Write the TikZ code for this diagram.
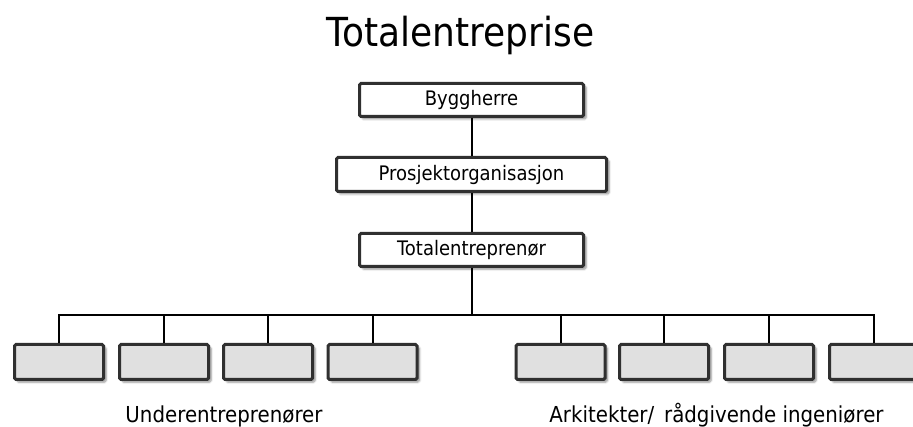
\documentclass[tikz,border=0pt]{standalone}
\usepackage{fontspec}
\newfontfamily\tfont[FakeStretch=0.9]{DejaVu Sans}
\usetikzlibrary{shadows.blur}
\definecolor{boxline}{HTML}{303030}
\definecolor{boxgray}{HTML}{E0E0E0}
\begin{document}
\begin{tikzpicture}[x=1pt,y=-1pt,
  orgbox/.style={draw=boxline, line width=3pt, rounded corners=1.5pt, fill=white,
    inner sep=0pt, minimum height=33pt,
    blur shadow={shadow xshift=2.5pt, shadow yshift=-2.5pt, shadow blur steps=5,
      shadow blur radius=2pt, shadow opacity=45},
    font=\tfont\fontsize{20}{24}\selectfont},
  subbox/.style={orgbox, fill=boxgray, minimum width=89pt, minimum height=35pt},
  link/.style={line width=2pt, black},
  caption/.style={anchor=base, inner sep=0pt, font=\tfont\fontsize{22}{26}\selectfont}]
\useasboundingbox (0,0) rectangle (913,427);

% title
\node[anchor=base, inner sep=0pt, font=\tfont\fontsize{40}{46}\selectfont] (title) at (460.5,47) {Totalentreprise};

% main chain
\node[orgbox, minimum width=224pt] (bh) at (471.5,100) {Byggherre};
\node[orgbox, minimum width=270pt, minimum height=34pt] (po) at (471.5,174.5) {Prosjektorganisasjon};
\node[orgbox, minimum width=224pt] (te) at (471.5,250) {Totalentreprenør};

% lower row
\node[subbox] (u1) at (59,362) {};
\node[subbox] (u2) at (164,362) {};
\node[subbox] (u3) at (268,362) {};
\node[subbox] (u4) at (372.5,362) {};
\node[subbox] (a1) at (560.5,362) {};
\node[subbox] (a2) at (664,362) {};
\node[subbox] (a3) at (769,362) {};
\node[subbox] (a4) at (874,362) {};

\coordinate (bus) at (0,315);

% connectors
\draw[link] (bh.south) -- (po.north);
\draw[link] (po.south) -- (te.north);
\draw[link] (te.south) -- (te.south |- bus);
\draw[link] (u1.north) -- (u1.north |- bus) -- (a4.north |- bus) -- (a4.north);
\foreach \n in {u2,u3,u4,a1,a2,a3}
  \draw[link] (\n.north) -- (\n.north |- bus);

% group captions
\node[caption] (cu) at (224,423) {Underentreprenører};
\node[caption] (ca) at (716.5,423) {Arkitekter/\hspace{0.45em}rådgivende ingeniører};
\end{tikzpicture}
\end{document}
